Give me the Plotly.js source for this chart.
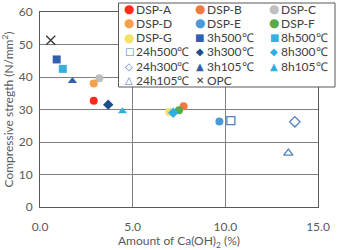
<!DOCTYPE html>
<html><head><meta charset="utf-8">
<script src="https://cdn.plot.ly/plotly-3.0.1.min.js"></script>
<style>html,body{margin:0;padding:0;background:#fff}#chart{width:339px;height:250px}</style>
</head><body><div id="chart"></div>
<script>
const names = ["DSP-A","DSP-B","DSP-C","DSP-D","DSP-E","DSP-F","DSP-G",
  "3h500℃","8h500℃","24h500℃","3h300℃","8h300℃","24h300℃","3h105℃","8h105℃","24h105℃","OPC"];
const xVals = [2.9, 7.75, 3.2, 2.9, 9.68, 7.5, 6.97, 0.9, 1.23, 10.3, 3.68, 7.19, 13.75, 1.75, 4.45, 13.4, 0.58];
const yVals = [32.7, 31.0, 39.6, 38.0, 26.3, 29.8, 29.2, 45.4, 42.5, 26.6, 31.5, 29.0, 26.2, 38.8, 29.5, 16.6, 51.3];
const colors = ["#ff2a1a","#f07a40","#bfbfbf","#f5a04a","#4a9ad8","#5aab48","#f2e266",
  "#2f5fad","#36b0e0","#4f81bd","#1f4e8a","#30aee0","#4f81bd","#2f5fad","#30aee0","#4f81bd","#333333"];
const symbols = ["circle","circle","circle","circle","circle","circle","circle",
  "square","square","square-open","diamond","diamond","diamond-open","triangle-up","triangle-up","triangle-up-open","x-thin-open"];
const legendGlyphs = ["●","●","●","●","●","●","●","■","■","□","◆","◆","◇","▲","▲","△","✕"];

const traces = names.map((n,i)=>({
  type:"scatter", mode:"markers", name:n, x:[xVals[i]], y:[yVals[i]], showlegend:false,
  marker:{color:colors[i], symbol:symbols[i], size: symbols[i]==="x-thin-open"?9:8,
    line:{color:colors[i], width: symbols[i].endsWith("open")?1.3:0}}
}));

// plot area in pixels (from margins)
const L=40, R=318, T=12, B=207;
const px = v => (v-L)/(R-L);
const py = v => (B-v)/(B-T);

const font = "Lato, Open Sans, sans-serif";
const annotations = [];
const colMarkX = [129, 199.5, 274], colTextX = [134, 205, 279];
const rowY0 = 9, rowStep = 14.3;
names.forEach((n,i)=>{
  const c = i%3, r = Math.floor(i/3);
  const y = rowY0 + r*rowStep;
  annotations.push({xref:"paper", yref:"paper", x:px(colMarkX[c]), y:py(y), xanchor:"center", yanchor:"middle",
    text:legendGlyphs[i], showarrow:false,
    font:{family:"DejaVu Sans", size: (legendGlyphs[i]==="●"?12:10), color:colors[i]}});
  annotations.push({xref:"paper", yref:"paper", x:px(colTextX[c]), y:py(y), xanchor:"left", yanchor:"middle",
    text:n, showarrow:false, font:{family:font, size:12, color:"#404040"}});
});

Plotly.newPlot("chart", traces, {
  width:339, height:250,
  margin:{l:L, r:339-R, t:T, b:250-B},
  paper_bgcolor:"#fff", plot_bgcolor:"#fff",
  font:{family:font, size:12, color:"#595959"},
  showlegend:false,
  shapes:[{type:"rect", xref:"paper", yref:"paper", x0:px(118.5), x1:px(335), y0:py(87), y1:py(3),
    fillcolor:"#ffffff", line:{color:"#595959", width:1}, layer:"above"}],
  annotations: annotations,
  xaxis:{range:[0,15], dtick:5, tick0:0, tickformat:".1f", showgrid:true, gridcolor:"#7f7f7f", gridwidth:1,
    zeroline:false, showline:true, linecolor:"#595959", linewidth:1, mirror:true, ticks:"", ticklen:0,
    ticklabelstandoff:9,
    tickfont:{size:12, color:"#595959"},
    title:{text:"Amount of Ca(OH)<sub>2</sub> (%)", font:{size:12, color:"#595959"}, standoff:3}},
  yaxis:{range:[0,60], dtick:10, tick0:0, showgrid:true, gridcolor:"#7f7f7f", gridwidth:1,
    zeroline:false, showline:true, linecolor:"#595959", linewidth:1, mirror:true, ticks:"",
    ticklabelstandoff:4,
    tickfont:{size:12, color:"#595959"},
    title:{text:"Compressive stregth (N/mm<sup>2</sup>)", font:{size:12, color:"#595959"}, standoff:8}}
}, {staticPlot:true, displayModeBar:false});
</script></body></html>
